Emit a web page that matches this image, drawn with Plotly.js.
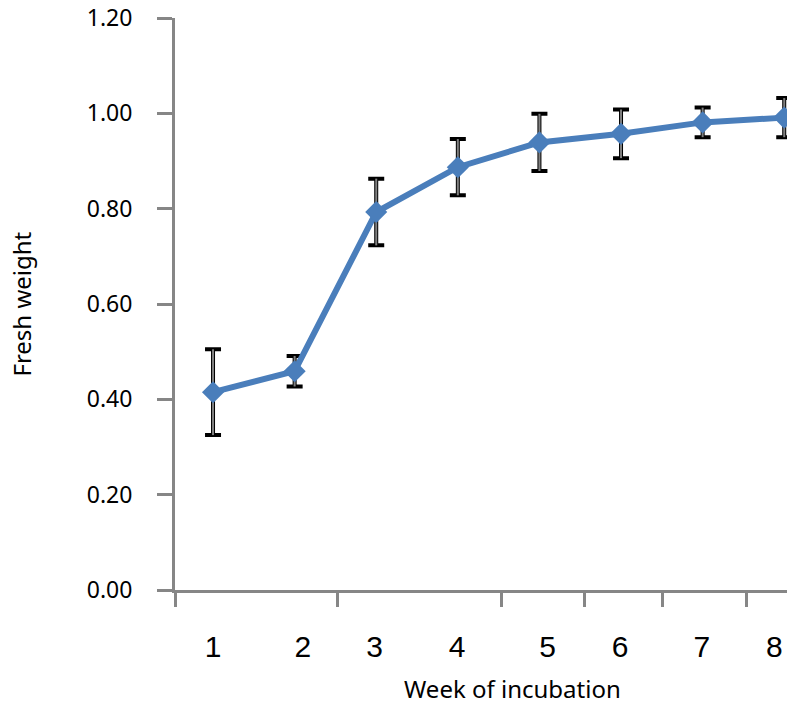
<!DOCTYPE html>
<html>
<head>
<meta charset="utf-8">
<script src="https://cdn.plot.ly/plotly-3.0.1.min.js"></script>
<style>html,body{margin:0;padding:0;background:#fff;}#chart{width:787px;height:706px;}</style>
</head>
<body>
<div id="chart"></div>
<script>
// Data
const weeks = [1, 2, 3, 4, 5, 6, 7, 8];
const freshWeight = [0.415, 0.459, 0.793, 0.887, 0.939, 0.957, 0.981, 0.991];
const errorValues = [0.090, 0.032, 0.070, 0.059, 0.060, 0.051, 0.031, 0.041];

// Tick marks and tick labels as placed in the reference
const tickMarkPositions = [0.534, 2.53, 4.54, 5.55, 6.51, 7.54];
const tickLabelPositions = [1.0, 2.1, 2.98, 3.99, 5.1, 5.99, 6.99, 7.88];
const tickLabels = ['1', '2', '3', '4', '5', '6', '7', '8'];
const yTicks = [0, 0.2, 0.4, 0.6, 0.8, 1.0, 1.2];

const xTitle = 'Week of incubation';
const yTitle = 'Fresh weight';

const lineColor = '#4a7ebb';
const xRange = [0.534, 8.034];

const traces = [
  {
    x: weeks, y: freshWeight, type: 'scatter', mode: 'markers',
    marker: {size: 1, color: 'rgba(0,0,0,0)'},
    error_y: {type: 'data', array: errorValues, visible: true, color: '#000000', thickness: 4, width: 8},
    showlegend: false, hoverinfo: 'skip', cliponaxis: false
  },
  {
    x: weeks, y: freshWeight, type: 'scatter', mode: 'markers',
    marker: {size: 1, color: 'rgba(0,0,0,0)'},
    error_y: {type: 'data', array: errorValues, visible: true, color: '#808080', thickness: 2, width: 0},
    showlegend: false, hoverinfo: 'skip', cliponaxis: false
  },
  {
    x: weeks, y: freshWeight, type: 'scatter', mode: 'lines+markers',
    line: {color: lineColor, width: 6},
    marker: {symbol: 'diamond', size: 17, color: lineColor},
    showlegend: false
  },
  {
    x: [], y: [], xaxis: 'x2', yaxis: 'y', type: 'scatter', showlegend: false
  }
];

const layout = {
  width: 787, height: 706,
  margin: {l: 175, r: 0, t: 18, b: 116},
  paper_bgcolor: '#ffffff', plot_bgcolor: '#ffffff',
  font: {family: 'Noto Sans, sans-serif', color: '#000000'},
  showlegend: false,
  xaxis: {
    range: xRange, showgrid: false, zeroline: false,
    showline: true, linecolor: '#868686', linewidth: 3,
    tickmode: 'array', tickvals: tickMarkPositions,
    ticks: 'outside', ticklen: 14, tickwidth: 3, tickcolor: '#868686',
    showticklabels: false
  },
  xaxis2: {
    overlaying: 'x', anchor: 'y', side: 'bottom',
    range: xRange, showgrid: false, zeroline: false, showline: false,
    tickmode: 'array', tickvals: tickLabelPositions, ticktext: tickLabels,
    ticks: '', ticklabelstandoff: 36,
    tickfont: {family: 'Liberation Sans, Arial, sans-serif', size: 30, color: '#000000'}
  },
  yaxis: {
    range: [0, 1.2], showgrid: false, zeroline: false,
    showline: true, linecolor: '#868686', linewidth: 3,
    tickmode: 'array', tickvals: yTicks, tickformat: '.2f',
    ticks: 'outside', ticklen: 15, tickwidth: 3, tickcolor: '#868686',
    ticklabelstandoff: 20,
    tickfont: {family: 'Noto Sans, sans-serif', size: 23, color: '#000000'}
  },
  annotations: [
    {text: xTitle, xref: 'paper', yref: 'paper', x: 0.551, y: -0.1725,
     xanchor: 'center', yanchor: 'middle', showarrow: false, borderpad: 0,
     font: {family: 'Noto Sans, sans-serif', size: 24, color: '#000000'}},
    {text: yTitle, xref: 'paper', yref: 'paper', x: -0.25, y: 0.499,
     xanchor: 'center', yanchor: 'middle', showarrow: false, textangle: -90,
     font: {family: 'Noto Sans, sans-serif', size: 24, color: '#000000'}}
  ]
};

Plotly.newPlot('chart', traces, layout, {displayModeBar: false, staticPlot: true});
</script>
</body>
</html>
